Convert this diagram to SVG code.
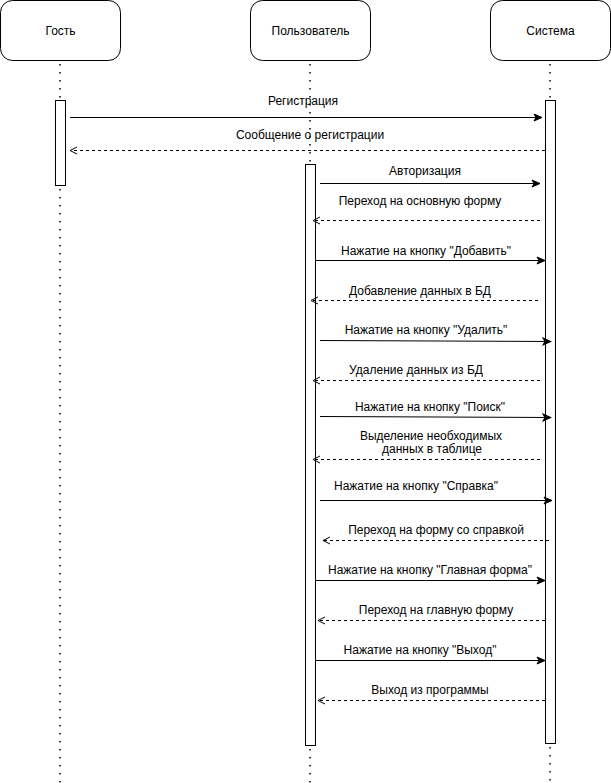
<svg xmlns="http://www.w3.org/2000/svg" width="611" height="783" viewBox="0 0 611 783">
<style>
.box{fill:#fff;stroke:#000;stroke-width:1}
.life{stroke:#000;stroke-width:1.5;stroke-dasharray:1.5 6.5;fill:none}
.act{fill:#fff;stroke:#000;stroke-width:1}
.msg{stroke:#000;stroke-width:1;fill:none}
.ret{stroke:#000;stroke-width:1;fill:none;stroke-dasharray:3 3}
text{font-family:"Liberation Sans",Arial,sans-serif;font-size:12px;fill:#000;text-anchor:middle}
</style>
<defs>
<marker id="filled" markerWidth="10" markerHeight="10" refX="9" refY="5" orient="auto" markerUnits="userSpaceOnUse">
<path d="M1,1.5 L9,5 L1,8.5 L3,5 Z" fill="#000" stroke="#000" stroke-width="1"/>
</marker>
<marker id="open" markerWidth="10" markerHeight="10" refX="9" refY="5" orient="auto" markerUnits="userSpaceOnUse">
<path d="M2,1.5 L9,5 L2,8.5" fill="none" stroke="#000" stroke-width="1"/>
</marker>
</defs>
<rect width="611" height="783" fill="#fff"/>
<g id="lifelines">
<line class="life" x1="60" y1="64" x2="60" y2="100"/>
<line class="life" x1="60" y1="189" x2="60" y2="783"/>
<line class="life" x1="310" y1="64" x2="310" y2="164"/>
<line class="life" x1="310" y1="749" x2="310" y2="783"/>
<line class="life" x1="550" y1="64" x2="550" y2="100"/>
<line class="life" x1="550" y1="747" x2="550" y2="783"/>
</g>
<g id="guest">
<rect class="box" x="0.5" y="0.5" width="120" height="60" rx="12"/>
<text x="60.5" y="34.5">Гость</text>
</g>
<g id="user">
<rect class="box" x="250.5" y="0.5" width="120" height="60" rx="12"/>
<text x="310.5" y="34.5">Пользователь</text>
</g>
<g id="system">
<rect class="box" x="490.5" y="0.5" width="120" height="60" rx="12"/>
<text x="550.5" y="34.5">Система</text>
</g>
<g id="activations">
<rect class="act" x="55.5" y="100.5" width="10" height="85"/>
<rect class="act" x="545.5" y="100.5" width="10" height="643"/>
<rect class="act" x="305.5" y="164.5" width="10" height="581"/>
</g>
<g id="connectors">
<line class="msg" x1="70" y1="117.5" x2="542" y2="117.5" marker-end="url(#filled)"/>
<line class="ret" x1="545" y1="150.5" x2="70" y2="150.5" marker-end="url(#open)"/>
<line class="msg" x1="320" y1="183.5" x2="540" y2="183.5" marker-end="url(#filled)"/>
<line class="ret" x1="540" y1="220.5" x2="313" y2="220.5" marker-end="url(#open)"/>
<line class="msg" x1="315" y1="260.5" x2="545" y2="260.5" marker-end="url(#filled)"/>
<line class="ret" x1="538" y1="300.5" x2="311" y2="300.5" marker-end="url(#open)"/>
<line class="msg" x1="320" y1="340.5" x2="551" y2="341.5" marker-end="url(#filled)"/>
<line class="ret" x1="540" y1="380.5" x2="313" y2="380.5" marker-end="url(#open)"/>
<line class="msg" x1="320" y1="416.5" x2="551" y2="417.5" marker-end="url(#filled)"/>
<line class="ret" x1="540" y1="459.5" x2="313" y2="459.5" marker-end="url(#open)"/>
<line class="msg" x1="320" y1="500.5" x2="552" y2="500.5" marker-end="url(#filled)"/>
<line class="ret" x1="549" y1="540.5" x2="323" y2="540.5" marker-end="url(#open)"/>
<line class="msg" x1="315" y1="580.5" x2="545" y2="580.5" marker-end="url(#filled)"/>
<line class="ret" x1="545" y1="620.5" x2="318" y2="620.5" marker-end="url(#open)"/>
<line class="msg" x1="315" y1="660.5" x2="545" y2="660.5" marker-end="url(#filled)"/>
<line class="ret" x1="545" y1="700.5" x2="318" y2="700.5" marker-end="url(#open)"/>
</g>
<g id="labels">
<text x="303" y="105">Регистрация</text>
<text x="310" y="139">Сообщение о регистрации</text>
<text x="425" y="175">Авторизация</text>
<text x="420" y="205">Переход на основную форму</text>
<text x="426" y="255">Нажатие на кнопку "Добавить"</text>
<text x="420" y="295">Добавление данных в БД</text>
<text x="426" y="334">Нажатие на кнопку "Удалить"</text>
<text x="416" y="374">Удаление данных из БД</text>
<text x="430" y="411">Нажатие на кнопку "Поиск"</text>
<text x="431" y="440">Выделение необходимых</text>
<text x="432" y="453">данных в таблице</text>
<text x="416" y="490">Нажатие на кнопку "Справка"</text>
<text x="436" y="534">Переход на форму со справкой</text>
<text x="430" y="574">Нажатие на кнопку "Главная форма"</text>
<text x="436" y="614">Переход на главную форму</text>
<text x="420" y="654">Нажатие на кнопку "Выход"</text>
<text x="430" y="694">Выход из программы</text>
</g>
</svg>
